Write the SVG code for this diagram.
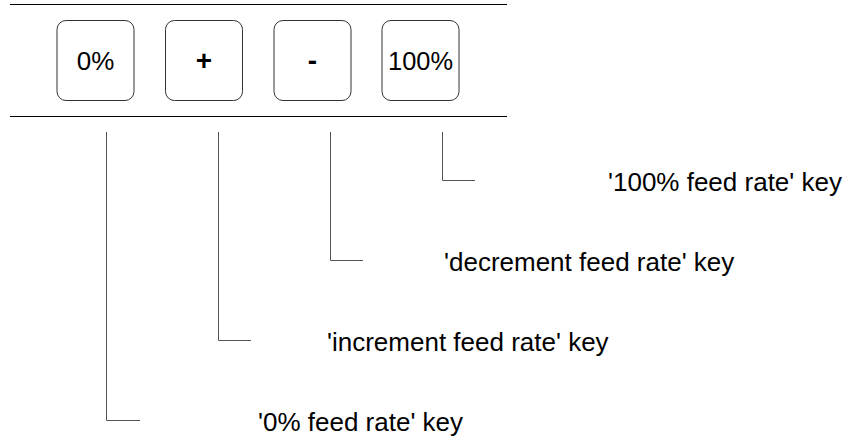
<svg xmlns="http://www.w3.org/2000/svg" width="856" height="439" viewBox="0 0 856 439">
<style>
.key{fill:#fff;stroke:#333;stroke-width:1}
.kt{font-family:"Liberation Sans",Arial,sans-serif;font-size:26px;fill:#000;text-anchor:middle}
.sym{font-weight:bold;font-size:28px}
.lt{font-family:"Liberation Sans",Arial,sans-serif;font-size:26px;fill:#000}
.rule{stroke:#000;stroke-width:1.2}
.conn{fill:none;stroke:#555;stroke-width:1}
</style>
<rect width="856" height="439" fill="#fff"/>
<line class="rule" x1="10" y1="4.5" x2="507" y2="4.5"/>
<line class="rule" x1="10" y1="116.5" x2="507" y2="116.5"/>
<g id="key-0">
<rect class="key" x="57" y="20.5" width="77" height="80" rx="9"/>
<text class="kt" x="95.5" y="70">0%</text>
</g>
<g id="key-plus">
<rect class="key" x="165.5" y="20.5" width="77" height="80" rx="9"/>
<text class="kt sym" x="204" y="70">+</text>
</g>
<g id="key-minus">
<rect class="key" x="274" y="20.5" width="77" height="80" rx="9"/>
<text class="kt sym" x="312.5" y="70">-</text>
</g>
<g id="key-100">
<rect class="key" x="382" y="20.5" width="77" height="80" rx="9"/>
<text class="kt" x="420.5" y="70" textLength="65" lengthAdjust="spacingAndGlyphs">100%</text>
</g>
<g id="connectors">
<polyline class="conn" points="442.5,132 442.5,180.5 475,180.5"/>
<polyline class="conn" points="330.5,132 330.5,260.5 363,260.5"/>
<polyline class="conn" points="218.5,132 218.5,340.5 251,340.5"/>
<polyline class="conn" points="106.5,132 106.5,420.5 140,420.5"/>
</g>
<g id="label-100">
<text class="lt" x="608" y="191">'100% feed rate' key</text>
</g>
<g id="label-dec">
<text class="lt" x="444" y="271">'decrement feed rate' key</text>
</g>
<g id="label-inc">
<text class="lt" x="327" y="351">'increment feed rate' key</text>
</g>
<g id="label-0">
<text class="lt" x="258" y="431">'0% feed rate' key</text>
</g>
</svg>
